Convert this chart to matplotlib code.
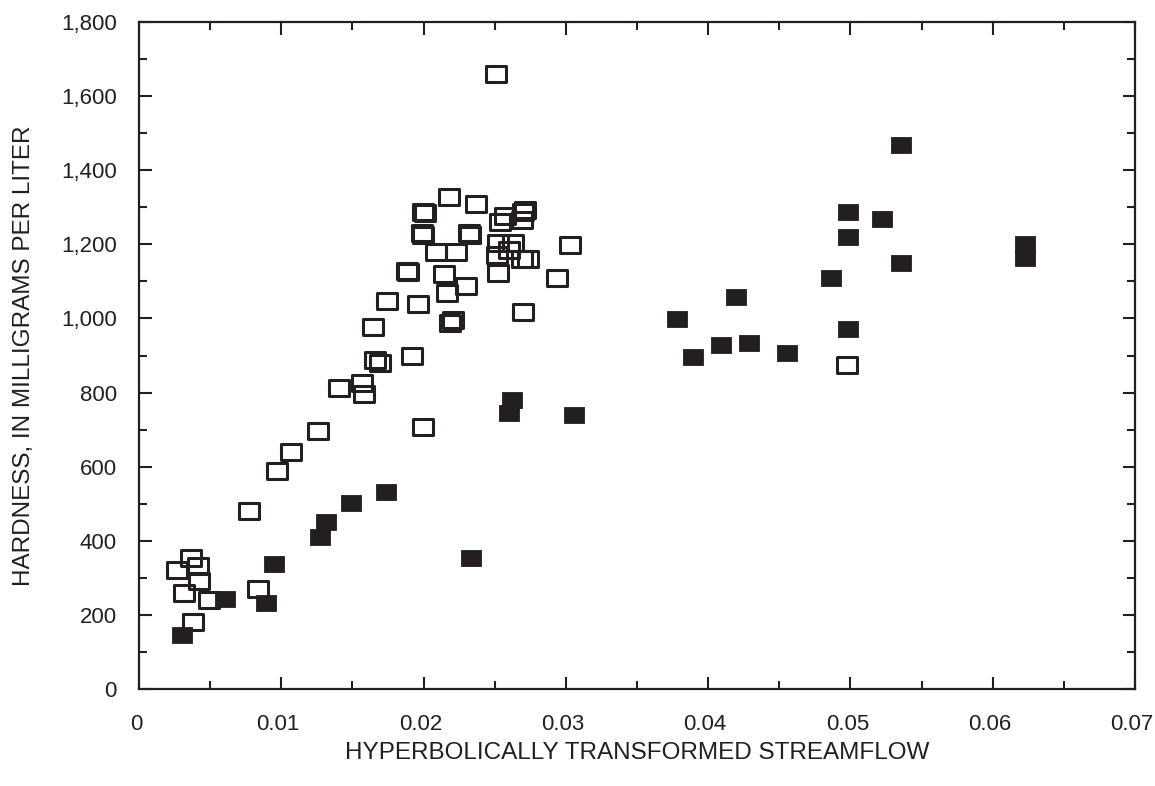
import matplotlib
matplotlib.use("Agg")
import matplotlib.pyplot as plt
from matplotlib.path import Path
from matplotlib.markers import MarkerStyle
from matplotlib.ticker import MultipleLocator, FuncFormatter
from matplotlib.transforms import ScaledTranslation

plt.rcParams['font.family'] = ['Liberation Sans', 'DejaVu Sans']

# open squares
open_x = [0.02507, 0.02179, 0.02368, 0.01998, 0.02010, 0.02572, 0.02700, 0.02710,
          0.02537, 0.02690, 0.01987, 0.01995, 0.02319, 0.02325, 0.02520, 0.02630,
          0.02600, 0.02518, 0.02690, 0.02736, 0.03030, 0.02085, 0.02228, 0.01886,
          0.01892, 0.02141, 0.02525, 0.02935, 0.02300, 0.02164, 0.01740, 0.01963,
          0.02700, 0.02186, 0.02210, 0.01642, 0.01918, 0.01658, 0.01694, 0.01403,
          0.01565, 0.01583, 0.01258, 0.01993, 0.01068, 0.00968, 0.00775, 0.00365,
          0.00417, 0.00265, 0.00424, 0.00316, 0.00492, 0.00834, 0.00382, 0.04975]
open_y = [1659, 1328, 1309, 1288, 1284, 1277, 1288, 1292,
          1261, 1266, 1230, 1226, 1230, 1226, 1203, 1203,
          1185, 1171, 1160, 1160, 1198, 1178, 1178, 1128,
          1125, 1120, 1122, 1108, 1088, 1069, 1048, 1039,
          1017, 988, 996, 978, 899, 888, 879, 813,
          827, 796, 697, 708, 640, 588, 481, 354,
          333, 321, 291, 258, 240, 270, 182, 874]

# filled squares
fill_x = [0.00300, 0.00604, 0.00892, 0.00950, 0.01272, 0.01314, 0.01488, 0.01736,
          0.02333, 0.02624, 0.02600, 0.03057, 0.03779, 0.03895, 0.04092, 0.04284,
          0.04195, 0.04556, 0.04863, 0.04980, 0.04980, 0.04980, 0.05221, 0.05353,
          0.05353, 0.06226, 0.06226]
fill_y = [146, 243, 233, 337, 411, 450, 501, 532,
          354, 780, 746, 740, 999, 897, 928, 935,
          1057, 908, 1108, 1288, 1219, 972, 1269, 1468,
          1149, 1201, 1162]

ink = '#231f20'
rect = Path([(-0.625, -0.5), (0.625, -0.5), (0.625, 0.5), (-0.625, 0.5), (-0.625, -0.5)],
            [Path.MOVETO, Path.LINETO, Path.LINETO, Path.LINETO, Path.CLOSEPOLY])
box = MarkerStyle(rect, joinstyle='round')

fig = plt.figure(figsize=(11.55, 7.86), dpi=100)
ax = fig.add_axes([0.1203, 0.1234, 0.8624, 0.8486])

ax.plot(open_x, open_y, linestyle='none', marker=box, markersize=13.9,
        markerfacecolor='none', markeredgecolor=ink, markeredgewidth=2.2)
ax.plot(fill_x, fill_y, linestyle='none', marker=box, markersize=15,
        markerfacecolor=ink, markeredgecolor=ink, markeredgewidth=0.6)

ax.set_xlim(0, 0.07)
ax.set_ylim(0, 1800)
ax.xaxis.set_major_locator(MultipleLocator(0.01))
ax.xaxis.set_minor_locator(MultipleLocator(0.005))
ax.yaxis.set_major_locator(MultipleLocator(200))
ax.yaxis.set_minor_locator(MultipleLocator(100))
ax.xaxis.set_major_formatter(FuncFormatter(lambda v, p: '0' if v == 0 else f'{v:.2f}'))
ax.yaxis.set_major_formatter(FuncFormatter(lambda v, p: f'{int(v):,}'))

for s in ax.spines.values():
    s.set_linewidth(1.6)
    s.set_color(ink)
ax.tick_params(which='both', direction='in', top=True, right=True, color=ink,
               width=1.5, labelsize=16, labelcolor=ink)
ax.tick_params(which='major', length=9)
ax.tick_params(which='minor', length=6)
ax.tick_params(axis='y', which='major', pad=16)
ax.tick_params(axis='x', which='major', pad=18)

# x tick labels sit a little left of their ticks in the original
shift = ScaledTranslation(-0.03, 0, fig.dpi_scale_trans)
for lbl in ax.get_xticklabels():
    lbl.set_transform(lbl.get_transform() + shift)

ax.set_xlabel('HYPERBOLICALLY TRANSFORMED STREAMFLOW', fontsize=17.5, color=ink, labelpad=5)
ax.set_ylabel('HARDNESS, IN MILLIGRAMS PER LITER', fontsize=17.5, color=ink, labelpad=19)

fig.savefig('out.png', dpi=100)
